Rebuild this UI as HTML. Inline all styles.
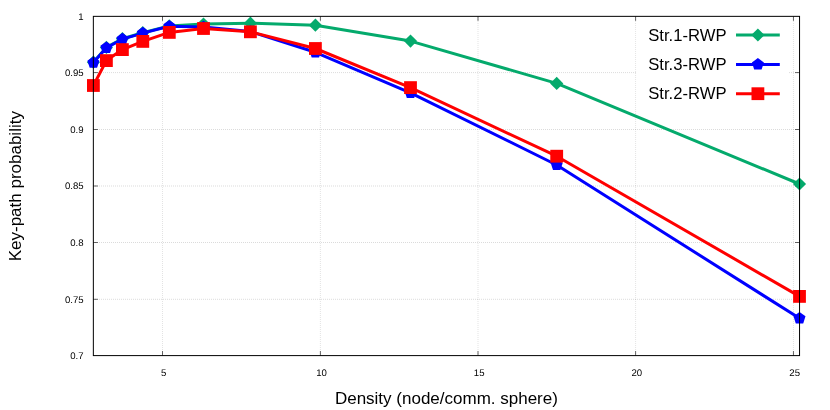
<!DOCTYPE html>
<html><head><meta charset="utf-8"><title>Key-path probability</title>
<style>
html,body{margin:0;padding:0;background:#fff;}
body{width:830px;height:410px;overflow:hidden;font-family:"Liberation Sans",sans-serif;}
svg{display:block;will-change:transform;}
text{font-family:"Liberation Sans",sans-serif;fill:#000;}
.tk{font-size:9.6px;text-rendering:geometricPrecision;}
.lb{font-size:17px;}
.lg{font-size:16.65px;}
</style></head><body>
<svg width="830" height="410" viewBox="0 0 830 410">
<rect x="0" y="0" width="830" height="410" fill="#fff"/>
<g stroke="#000" stroke-opacity="0.11" stroke-width="1" stroke-dasharray="1,1" fill="none">
<line x1="162.5" y1="17" x2="162.5" y2="355.6"/>
<line x1="320.4" y1="17" x2="320.4" y2="355.6"/>
<line x1="478.0" y1="17" x2="478.0" y2="355.6"/>
<line x1="635.6" y1="17" x2="635.6" y2="355.6"/>
<line x1="793.45" y1="17" x2="793.45" y2="355.6"/>
</g><g stroke="#000" stroke-opacity="0.14" stroke-width="1" stroke-dasharray="1,1" fill="none">
<line x1="93" y1="72.6" x2="799.55" y2="72.6"/>
<line x1="93" y1="129.5" x2="799.55" y2="129.5"/>
<line x1="93" y1="186.0" x2="799.55" y2="186.0"/>
<line x1="93" y1="242.5" x2="799.55" y2="242.5"/>
<line x1="93" y1="299.3" x2="799.55" y2="299.3"/>
</g>
<g stroke="#000" stroke-opacity="0.6" stroke-width="1" fill="none">
<line x1="162.5" y1="355.6" x2="162.5" y2="351.1"/>
<line x1="162.5" y1="16.35" x2="162.5" y2="20.85"/>
<line x1="320.4" y1="355.6" x2="320.4" y2="351.1"/>
<line x1="320.4" y1="16.35" x2="320.4" y2="20.85"/>
<line x1="478.0" y1="355.6" x2="478.0" y2="351.1"/>
<line x1="478.0" y1="16.35" x2="478.0" y2="20.85"/>
<line x1="635.6" y1="355.6" x2="635.6" y2="351.1"/>
<line x1="635.6" y1="16.35" x2="635.6" y2="20.85"/>
<line x1="793.45" y1="355.6" x2="793.45" y2="351.1"/>
<line x1="793.45" y1="16.35" x2="793.45" y2="20.85"/>
<line x1="93.35" y1="72.6" x2="97.85" y2="72.6"/>
<line x1="799.55" y1="72.6" x2="795.05" y2="72.6"/>
<line x1="93.35" y1="129.5" x2="97.85" y2="129.5"/>
<line x1="799.55" y1="129.5" x2="795.05" y2="129.5"/>
<line x1="93.35" y1="186.0" x2="97.85" y2="186.0"/>
<line x1="799.55" y1="186.0" x2="795.05" y2="186.0"/>
<line x1="93.35" y1="242.5" x2="97.85" y2="242.5"/>
<line x1="799.55" y1="242.5" x2="795.05" y2="242.5"/>
<line x1="93.35" y1="299.3" x2="97.85" y2="299.3"/>
<line x1="799.55" y1="299.3" x2="795.05" y2="299.3"/>
</g>
<rect x="636.5" y="21" width="152.5" height="88" fill="#fff"/>
<polyline points="93.4,62.2 106.4,47.4 122.4,38.7 142.8,32.7 169.3,25.9 203.5,24.0 250.4,23.2 315.4,25.2 410.5,41.1 556.7,83.4 799.5,184.0" fill="none" stroke="#04aa6c" stroke-width="3" stroke-linejoin="round" stroke-linecap="butt"/>
<g fill="#04aa6c"><polygon points="86.80,62.20 93.40,55.60 100.00,62.20 93.40,68.80"/><polygon points="99.80,47.40 106.40,40.80 113.00,47.40 106.40,54.00"/><polygon points="115.80,38.70 122.40,32.10 129.00,38.70 122.40,45.30"/><polygon points="136.20,32.70 142.80,26.10 149.40,32.70 142.80,39.30"/><polygon points="162.70,25.90 169.30,19.30 175.90,25.90 169.30,32.50"/><polygon points="196.90,24.00 203.50,17.40 210.10,24.00 203.50,30.60"/><polygon points="243.80,23.20 250.40,16.60 257.00,23.20 250.40,29.80"/><polygon points="308.80,25.20 315.40,18.60 322.00,25.20 315.40,31.80"/><polygon points="403.90,41.10 410.50,34.50 417.10,41.10 410.50,47.70"/><polygon points="550.10,83.40 556.70,76.80 563.30,83.40 556.70,90.00"/><polygon points="792.90,184.00 799.50,177.40 806.10,184.00 799.50,190.60"/></g>
<polyline points="93.4,62.6 106.4,47.8 122.4,39.1 142.8,33.1 169.3,26.3 203.5,27.0 250.4,31.6 315.4,52.3 410.5,92.8 556.7,165.0 799.5,318.3" fill="none" stroke="#0000ff" stroke-width="3" stroke-linejoin="round" stroke-linecap="butt"/>
<g fill="#0000ff"><polygon points="93.40,56.30 99.39,60.65 97.10,67.70 89.70,67.70 87.41,60.65"/><polygon points="106.40,41.50 112.39,45.85 110.10,52.90 102.70,52.90 100.41,45.85"/><polygon points="122.40,32.80 128.39,37.15 126.10,44.20 118.70,44.20 116.41,37.15"/><polygon points="142.80,26.80 148.79,31.15 146.50,38.20 139.10,38.20 136.81,31.15"/><polygon points="169.30,20.00 175.29,24.35 173.00,31.40 165.60,31.40 163.31,24.35"/><polygon points="203.50,20.70 209.49,25.05 207.20,32.10 199.80,32.10 197.51,25.05"/><polygon points="250.40,25.30 256.39,29.65 254.10,36.70 246.70,36.70 244.41,29.65"/><polygon points="315.40,46.00 321.39,50.35 319.10,57.40 311.70,57.40 309.41,50.35"/><polygon points="410.50,86.50 416.49,90.85 414.20,97.90 406.80,97.90 404.51,90.85"/><polygon points="556.70,158.70 562.69,163.05 560.40,170.10 553.00,170.10 550.71,163.05"/><polygon points="799.50,312.00 805.49,316.35 803.20,323.40 795.80,323.40 793.51,316.35"/></g>
<polyline points="93.4,85.5 106.4,60.6 122.4,49.6 142.8,41.4 169.3,32.4 203.5,28.5 250.4,31.8 315.4,48.5 410.5,87.6 556.7,156.2 799.5,296.4" fill="none" stroke="#ff0000" stroke-width="3" stroke-linejoin="round" stroke-linecap="butt"/>
<g fill="#ff0000"><rect x="87.00" y="79.10" width="12.80" height="12.80"/><rect x="100.00" y="54.20" width="12.80" height="12.80"/><rect x="116.00" y="43.20" width="12.80" height="12.80"/><rect x="136.40" y="35.00" width="12.80" height="12.80"/><rect x="162.90" y="26.00" width="12.80" height="12.80"/><rect x="197.10" y="22.10" width="12.80" height="12.80"/><rect x="244.00" y="25.40" width="12.80" height="12.80"/><rect x="309.00" y="42.10" width="12.80" height="12.80"/><rect x="404.10" y="81.20" width="12.80" height="12.80"/><rect x="550.30" y="149.80" width="12.80" height="12.80"/><rect x="793.10" y="290.00" width="12.80" height="12.80"/></g>
<text class="lg" x="726.5" y="40.6" text-anchor="end">Str.1-RWP</text>
<line x1="736" y1="35.0" x2="779.8" y2="35.0" stroke="#04aa6c" stroke-width="3"/>
<g fill="#04aa6c"><polygon points="751.30,35.00 757.90,28.40 764.50,35.00 757.90,41.60"/></g>
<text class="lg" x="726.5" y="70.0" text-anchor="end">Str.3-RWP</text>
<line x1="736" y1="64.4" x2="779.8" y2="64.4" stroke="#0000ff" stroke-width="3"/>
<g fill="#0000ff"><polygon points="757.90,58.10 763.89,62.45 761.60,69.50 754.20,69.50 751.91,62.45"/></g>
<text class="lg" x="726.5" y="99.3" text-anchor="end">Str.2-RWP</text>
<line x1="736" y1="93.7" x2="779.8" y2="93.7" stroke="#ff0000" stroke-width="3"/>
<g fill="#ff0000"><rect x="751.50" y="87.30" width="12.80" height="12.80"/></g>
<rect x="93.35" y="16.35" width="706.1999999999999" height="339.25" fill="none" stroke="#000" stroke-width="1"/>
<text class="tk" x="83.6" y="19.7" text-anchor="end">1</text>
<text class="tk" x="83.6" y="75.9" text-anchor="end">0.95</text>
<text class="tk" x="83.6" y="132.8" text-anchor="end">0.9</text>
<text class="tk" x="83.6" y="189.3" text-anchor="end">0.85</text>
<text class="tk" x="83.6" y="245.8" text-anchor="end">0.8</text>
<text class="tk" x="83.6" y="302.6" text-anchor="end">0.75</text>
<text class="tk" x="83.6" y="358.9" text-anchor="end">0.7</text>
<text class="tk" x="163.7" y="375.9" text-anchor="middle">5</text>
<text class="tk" x="321.6" y="375.9" text-anchor="middle">10</text>
<text class="tk" x="479.2" y="375.9" text-anchor="middle">15</text>
<text class="tk" x="636.8" y="375.9" text-anchor="middle">20</text>
<text class="tk" x="794.7" y="375.9" text-anchor="middle">25</text>
<text class="lb" x="446.4" y="403.8" text-anchor="middle">Density (node/comm. sphere)</text>
<text class="lb" transform="translate(21,186.2) rotate(-90)" text-anchor="middle">Key-path probability</text>
</svg></body></html>
